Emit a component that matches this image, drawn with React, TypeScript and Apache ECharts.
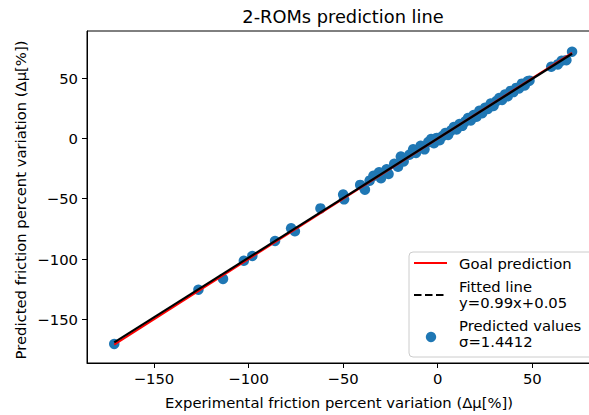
import React, { useEffect, useRef } from "react";
import * as echarts from "echarts";

const FONT = "DejaVu Sans";

const title = "2-ROMs prediction line";
const xName = "Experimental friction percent variation (Δμ[%])";
const yName = "Predicted friction percent variation (Δμ[%])";

const xTicks = [-150, -100, -50, 0, 50];
const yTicks = [-150, -100, -50, 0, 50];

// experimental values (x) and predicted values (y)
const experimental = [
  -171, -126.5, -113.5, -102.5, -98, -86, -77.5, -75.5, -62, -50, -49.5,
  -41, -38.5, -36, -34, -31, -30, -27, -26, -23, -21, -19.5, -18, -15, -13,
  -11.5, -9, -7, -5, -3.5, -2, -0.5, 1, 2.5, 4, 5.5, 7, 8.5, 10, 11.5, 13,
  14.5, 16, 17.5, 19, 20.5, 22, 23.5, 25, 26.5, 28, 29.5, 31, 32.5, 34, 35.5,
  37, 38.5, 40, 41.5, 43, 44.5, 46, 47.5, 48.5, 60, 63.5, 65.5, 68, 71,
];
const predicted = [
  -170.5, -125.5, -116.5, -101.5, -97.5, -85, -74.5, -77, -58, -46.5, -50.5,
  -38.5, -42.5, -35, -31, -28, -33, -25.5, -29.5, -21, -23.5, -15, -19, -13.5,
  -9, -12, -6, -9, -3, -0.5, -4, 0.5, -1.5, 2, 4.5, 3, 6.5, 9.5, 7.5, 12, 10.5,
  14, 17, 15, 19.5, 18, 23, 21, 25.5, 24.5, 29, 27, 31, 33.5, 32, 36.5, 35,
  39.5, 38.5, 42, 41.5, 45.5, 44, 47.5, 48, 59.5, 61.5, 64.5, 65, 72,
];

const lineRange = [-171, 71];
const fitSlope = 0.99;
const fitIntercept = 0.05;
const sigma = "1.4412";

const legendLabels = [
  "Goal prediction",
  `Fitted line\ny=${fitSlope}x+${fitIntercept}`,
  `Predicted values\nσ=${sigma}`,
];

const fmt = (v: number) => String(v).replace("-", "\u2212");

export default function App() {
  const ref = useRef<HTMLDivElement>(null);
  useEffect(() => {
    if (!ref.current) return;
    const chart = echarts.init(ref.current, null, { renderer: "svg" });
    const scatterData = experimental.map((x, i) => [x, predicted[i]]);
    const goalData = lineRange.map((x) => [x, x]);
    const fitData = lineRange.map((x) => [x, fitSlope * x + fitIntercept]);
    const txt = {
      fontFamily: FONT,
      fontSize: 14.8,
      fill: "#000",
    };
    chart.setOption({
      animation: false,
      backgroundColor: "#fff",
      grid: {
        left: 87,
        right: -6.7,
        top: 31,
        bottom: 52,
        show: true,
        borderColor: "#000",
        borderWidth: 1,
        outerBoundsMode: "none",
      },
      xAxis: {
        type: "value",
        min: -185.4,
        max: 83.5,
        axisLine: { show: true, onZero: false, lineStyle: { color: "#000", width: 1 } },
        axisTick: { show: true, length: 5, lineStyle: { color: "#000", width: 1 }, customValues: xTicks },
        axisLabel: {
          customValues: xTicks,
          formatter: fmt,
          color: "#000",
          fontFamily: FONT,
          fontSize: 14.8,
          margin: 8,
        },
        splitLine: { show: false },
      },
      yAxis: {
        type: "value",
        min: -186.3,
        max: 89.2,
        axisLine: { show: true, onZero: false, lineStyle: { color: "#000", width: 1 } },
        axisTick: { show: true, length: 5, lineStyle: { color: "#000", width: 1 }, customValues: yTicks },
        axisLabel: {
          customValues: yTicks,
          formatter: fmt,
          color: "#000",
          fontFamily: FONT,
          fontSize: 14.8,
          margin: 9,
        },
        splitLine: { show: false },
      },
      series: [
        {
          type: "scatter",
          data: scatterData,
          symbolSize: 10.5,
          itemStyle: { color: "#1f77b4", opacity: 1 },
          z: 2,
        },
        {
          type: "line",
          data: goalData,
          showSymbol: false,
          lineStyle: { color: "#ff0000", width: 2 },
          z: 3,
        },
        {
          type: "line",
          data: fitData,
          showSymbol: false,
          lineStyle: { color: "#000", width: 2.2 },
          z: 4,
        },
      ],
      graphic: [
        {
          type: "text",
          x: 343,
          y: 16,
          style: { ...txt, fontSize: 17.8, text: title, textAlign: "center", textVerticalAlign: "middle" },
        },
        {
          type: "text",
          x: 339,
          y: 402,
          style: { ...txt, text: xName, textAlign: "center", textVerticalAlign: "middle" },
        },
        {
          type: "text",
          x: 20,
          y: 200,
          rotation: Math.PI / 2,
          style: { ...txt, text: yName, textAlign: "center", textVerticalAlign: "middle" },
        },
        {
          type: "rect",
          shape: { x: 409, y: 252, width: 190, height: 105, r: 4 },
          style: { fill: "rgba(255,255,255,0.8)", stroke: "#cccccc", lineWidth: 1 },
          z: 10,
        },
        {
          type: "line",
          shape: { x1: 414, y1: 263, x2: 447, y2: 263 },
          style: { stroke: "#ff0000", lineWidth: 2 },
          z: 11,
        },
        {
          type: "text",
          x: 459,
          y: 263,
          style: { ...txt, text: legendLabels[0], textVerticalAlign: "middle" },
          z: 11,
        },
        {
          type: "line",
          shape: { x1: 414, y1: 295, x2: 447, y2: 295 },
          style: { stroke: "#000", lineWidth: 2, lineDash: [7.5, 3.5] },
          z: 11,
        },
        {
          type: "text",
          x: 459,
          y: 294,
          style: { ...txt, text: legendLabels[1], lineHeight: 16, textVerticalAlign: "middle" },
          z: 11,
        },
        {
          type: "circle",
          shape: { cx: 431, cy: 337, r: 5.2 },
          style: { fill: "#1f77b4" },
          z: 11,
        },
        {
          type: "text",
          x: 459,
          y: 333.5,
          style: { ...txt, text: legendLabels[2], lineHeight: 16, textVerticalAlign: "middle" },
          z: 11,
        },
      ],
    });
    return () => chart.dispose();
  }, []);
  return (
    <div
      ref={ref}
      style={{ position: "absolute", left: 0, top: 0, width: 589, height: 415 }}
    />
  );
}
